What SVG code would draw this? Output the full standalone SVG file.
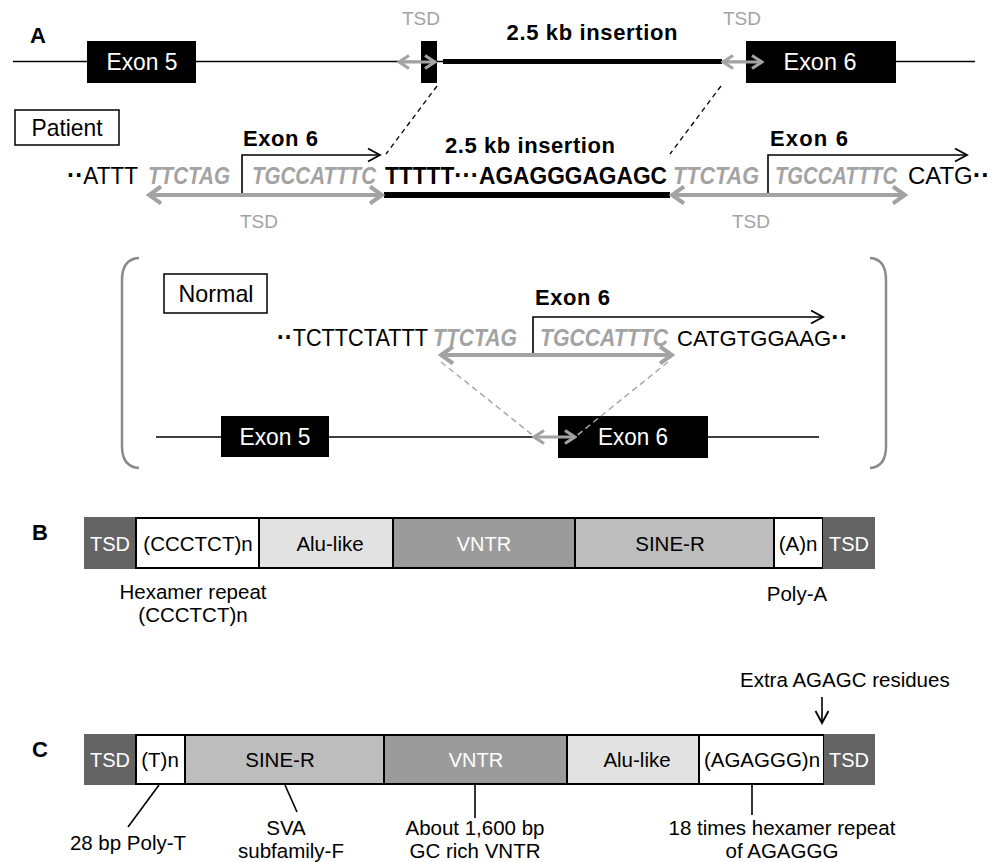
<svg xmlns="http://www.w3.org/2000/svg" width="1003" height="862" viewBox="0 0 1003 862">
<style>
text{font-family:"Liberation Sans",Arial,Helvetica,sans-serif;fill:#000}
.lbl{font-weight:bold;font-size:22px}
.bl{font-weight:bold;font-size:22px}
.seq{font-size:23px}
.seq2{font-size:22px}
.sb{font-size:23px;font-weight:bold}
.gi{font-size:23px;font-weight:bold;font-style:italic;fill:#a3a3a3}
.d{font-size:25px;font-weight:bold}
.tsd{font-size:19px;fill:#a3a3a3}
.ex{font-size:23.5px;fill:#fff}
.box{font-size:24px}
.seg{font-size:20.5px}
.segw{font-size:20px;fill:#fff}
.note{font-size:20.5px}
.mid{text-anchor:middle}
.thin{stroke:#000;stroke-width:1.6;fill:none}
.garr{stroke:#a3a3a3;stroke-width:4;fill:none}
.garrs{stroke:#a3a3a3;stroke-width:3.2;fill:none}
.darr{stroke:#000;stroke-width:1.6;fill:none}
.dash{stroke:#000;stroke-width:1.3;stroke-dasharray:5 4;fill:none}
.gdash{stroke:#aaa;stroke-width:1.5;stroke-dasharray:6 4;fill:none}
.exbox{fill:#000}
.tsdbox{fill:#646464}
.part{stroke:#000;stroke-width:2}
.brk{stroke:#8a8a8a;stroke-width:2.5;fill:none}
</style>
<defs>
<marker id="gch" viewBox="0 0 20 20" markerWidth="20" markerHeight="20" refX="17" refY="10" markerUnits="userSpaceOnUse" orient="auto-start-reverse">
<path d="M5,1.5 L17,10 L5,18.5" fill="none" stroke="#a3a3a3" stroke-width="4"/>
</marker>
<marker id="gchs" viewBox="0 0 16 16" markerWidth="16" markerHeight="16" refX="14" refY="8" markerUnits="userSpaceOnUse" orient="auto-start-reverse">
<path d="M4,1.5 L14,8 L4,14.5" fill="none" stroke="#a3a3a3" stroke-width="3.2"/>
</marker>
<marker id="bch" viewBox="0 0 16 16" markerWidth="16" markerHeight="16" refX="14" refY="8" markerUnits="userSpaceOnUse" orient="auto">
<path d="M2,1.5 L14,8 L2,14.5" fill="none" stroke="#000" stroke-width="1.8"/>
</marker>
</defs>

<!-- Panel labels -->
<text class="lbl" x="30" y="43">A</text>
<text class="lbl" x="32" y="540">B</text>
<text class="lbl" x="32" y="757">C</text>

<!-- Panel A genomic top -->
<g id="top-backbone">
<line class="thin" x1="13" y1="61.5" x2="975" y2="61.5"/>
<line x1="443" y1="61.5" x2="722" y2="61.5" stroke="#000" stroke-width="5"/>
</g>
<g id="top-exon5">
<rect class="exbox" x="87" y="41" width="109" height="42"/>
<text class="ex mid" x="142" y="70" textLength="71" lengthAdjust="spacingAndGlyphs">Exon 5</text>
</g>
<g id="top-tsd-box">
<rect class="exbox" x="421" y="41" width="16" height="42"/>
</g>
<g id="top-exon6">
<rect class="exbox" x="746" y="41" width="150" height="42"/>
<text class="ex mid" x="820" y="70" textLength="73" lengthAdjust="spacingAndGlyphs">Exon 6</text>
</g>
<g id="top-insertion-label">
<text class="bl mid" x="592" y="40" textLength="171" lengthAdjust="spacing">2.5 kb insertion</text>
</g>
<g id="top-tsd-left">
<text class="tsd mid" x="421" y="25">TSD</text>
</g>
<g id="top-tsd-right">
<text class="tsd mid" x="742" y="25">TSD</text>
</g>

<!-- Patient -->
<g id="patient-box">
<rect x="15" y="110" width="104" height="35" fill="#fff" stroke="#000" stroke-width="1.5"/>
<text class="box mid" x="67" y="136" textLength="71" lengthAdjust="spacingAndGlyphs">Patient</text>
</g>
<g id="patient-seq">
<text class="seq" x="67" y="184" textLength="71" lengthAdjust="spacingAndGlyphs"><tspan class="d">··</tspan>ATTT</text>
<text class="gi" x="148" y="184" textLength="82" lengthAdjust="spacingAndGlyphs">TTCTAG</text>
<text class="gi" x="252" y="184" textLength="124" lengthAdjust="spacingAndGlyphs">TGCCATTTC</text>
<text class="sb" x="385" y="184" textLength="282" lengthAdjust="spacingAndGlyphs">TTTTT<tspan class="d">···</tspan>AGAGGGAGAGC</text>
<text class="gi" x="673" y="184" textLength="86" lengthAdjust="spacingAndGlyphs">TTCTAG</text>
<text class="gi" x="775" y="184" textLength="122" lengthAdjust="spacingAndGlyphs">TGCCATTTC</text>
<text class="seq" x="908" y="184" textLength="82" lengthAdjust="spacingAndGlyphs">CATG<tspan class="d">··</tspan></text>
</g>
<g id="patient-exon6-left">
<text class="bl" x="243" y="146" textLength="75" lengthAdjust="spacing">Exon 6</text>
</g>
<g id="patient-insertion">
<text class="bl" x="445" y="153" textLength="170" lengthAdjust="spacing">2.5 kb insertion</text>
<line x1="384" y1="195" x2="670" y2="195" stroke="#000" stroke-width="6"/>
</g>
<g id="patient-exon6-right">
<text class="bl" x="770" y="146" textLength="78" lengthAdjust="spacing">Exon 6</text>
</g>
<g id="patient-tsd-left">
<text class="tsd mid" x="259" y="228">TSD</text>
</g>
<g id="patient-tsd-right">
<text class="tsd mid" x="751" y="228">TSD</text>
</g>

<!-- Normal -->
<g id="normal-bracket">
<path class="brk" d="M139,258 Q122,259 122,280 L122,446 Q122,467 139,468"/>
<path class="brk" d="M870,258 Q886,259 886,280 L886,446 Q886,467 870,468"/>
</g>
<g id="normal-box">
<rect x="164" y="274" width="103" height="39" fill="#fff" stroke="#000" stroke-width="1.5"/>
<text class="box mid" x="216" y="302" textLength="75" lengthAdjust="spacingAndGlyphs">Normal</text>
</g>
<g id="normal-seq">
<text class="seq" x="277" y="346" textLength="151" lengthAdjust="spacingAndGlyphs"><tspan class="d">··</tspan>TCTTCTATTT</text>
<text class="gi" x="433" y="346" textLength="84" lengthAdjust="spacingAndGlyphs">TTCTAG</text>
<text class="gi" x="540" y="346" textLength="128" lengthAdjust="spacingAndGlyphs">TGCCATTTC</text>
<text class="seq2" x="677" y="346" textLength="171" lengthAdjust="spacingAndGlyphs">CATGTGGAAG<tspan class="d">··</tspan></text>
</g>
<g id="normal-exon6-label">
<text class="bl" x="535" y="305" textLength="75" lengthAdjust="spacing">Exon 6</text>
</g>
<g id="normal-backbone">
<line class="thin" x1="156" y1="437" x2="819" y2="437"/>
</g>
<g id="normal-exon5">
<rect class="exbox" x="221" y="416" width="108" height="41"/>
<text class="ex mid" x="275" y="445" textLength="71" lengthAdjust="spacingAndGlyphs">Exon 5</text>
</g>
<g id="normal-exon6">
<rect class="exbox" x="558" y="416" width="150" height="42"/>
<text class="ex mid" x="633" y="445" textLength="70" lengthAdjust="spacingAndGlyphs">Exon 6</text>
</g>

<!-- Panel B -->
<g id="B-tsd-left">
<rect class="tsdbox" x="84" y="517" width="52" height="52"/>
<text class="segw mid" x="110" y="551">TSD</text>
</g>
<g id="B-cccTCT">
<rect class="part" x="136" y="518" width="123" height="50" fill="#fff"/>
<text class="seg mid" x="198" y="551">(CCCTCT)n</text>
</g>
<g id="B-alu">
<rect class="part" x="259" y="518" width="134" height="50" fill="#e2e2e2"/>
<text class="seg mid" x="330" y="551">Alu-like</text>
</g>
<g id="B-vntr">
<rect class="part" x="393" y="518" width="182" height="50" fill="#9b9b9b"/>
<text class="segw mid" x="484" y="551">VNTR</text>
</g>
<g id="B-sine">
<rect class="part" x="575" y="518" width="199" height="50" fill="#bdbdbd"/>
<text class="seg mid" x="670" y="551">SINE-R</text>
</g>
<g id="B-polyA">
<rect class="part" x="774" y="518" width="49" height="50" fill="#fff"/>
<text class="seg mid" x="798" y="551">(A)n</text>
</g>
<g id="B-tsd-right">
<rect class="tsdbox" x="823" y="517" width="52" height="52"/>
<text class="segw mid" x="849" y="551">TSD</text>
</g>
<g id="B-notes">
<text class="note mid" x="193" y="599">Hexamer repeat</text>
<text class="note mid" x="193" y="622">(CCCTCT)n</text>
<text class="note mid" x="797" y="601">Poly-A</text>
</g>

<!-- Panel C -->
<g id="C-tsd-left">
<rect class="tsdbox" x="84" y="734" width="52" height="51"/>
<text class="segw mid" x="110" y="767">TSD</text>
</g>
<g id="C-polyT">
<rect class="part" x="136" y="735" width="49" height="49" fill="#fff"/>
<text class="seg mid" x="160" y="767">(T)n</text>
</g>
<g id="C-sine">
<rect class="part" x="185" y="735" width="199" height="49" fill="#bdbdbd"/>
<text class="seg mid" x="280" y="767">SINE-R</text>
</g>
<g id="C-vntr">
<rect class="part" x="384" y="735" width="183" height="49" fill="#9b9b9b"/>
<text class="segw mid" x="476" y="767">VNTR</text>
</g>
<g id="C-alu">
<rect class="part" x="567" y="735" width="132" height="49" fill="#e2e2e2"/>
<text class="seg mid" x="637" y="767">Alu-like</text>
</g>
<g id="C-agaggg">
<rect class="part" x="699" y="735" width="125" height="49" fill="#fff"/>
<text class="seg mid" x="762" y="767">(AGAGGG)n</text>
</g>
<g id="C-tsd-right">
<rect class="tsdbox" x="824" y="734" width="51" height="51"/>
<text class="segw mid" x="849" y="767">TSD</text>
</g>
<g id="C-notes">
<text class="note mid" x="128" y="850">28 bp Poly-T</text>
<text class="note mid" x="286" y="835">SVA</text>
<text class="note mid" x="291" y="858">subfamily-F</text>
<text class="note mid" x="475" y="835">About 1,600 bp</text>
<text class="note mid" x="475" y="858">GC rich VNTR</text>
<text class="note mid" x="782" y="835">18 times hexamer repeat</text>
<text class="note mid" x="782" y="858">of AGAGGG</text>
<text class="note" x="740" y="687">Extra AGAGC residues</text>
</g>

<!-- Connectors -->
<g id="connectors">
<line class="garrs" x1="399" y1="62" x2="435" y2="62" marker-start="url(#gchs)" marker-end="url(#gchs)"/>
<line class="garrs" x1="723" y1="62" x2="762" y2="62" marker-start="url(#gchs)" marker-end="url(#gchs)"/>
<line class="dash" x1="437" y1="86" x2="386" y2="154"/>
<line class="dash" x1="721" y1="86" x2="670" y2="154"/>
<polyline class="darr" points="242,195 242,155 380,155" marker-end="url(#bch)"/>
<polyline class="darr" points="768,195 768,155 967,155" marker-end="url(#bch)"/>
<line class="garr" x1="149" y1="195" x2="382" y2="195" marker-start="url(#gch)" marker-end="url(#gch)"/>
<line class="garr" x1="672" y1="195" x2="905" y2="195" marker-start="url(#gch)" marker-end="url(#gch)"/>
<polyline class="darr" points="533,355 533,317 823,317" marker-end="url(#bch)"/>
<line class="garr" x1="441" y1="355" x2="672" y2="355" marker-start="url(#gch)" marker-end="url(#gch)"/>
<line class="gdash" x1="441" y1="362" x2="535" y2="437"/>
<line class="gdash" x1="668" y1="362" x2="575" y2="437"/>
<line class="garrs" x1="534" y1="437" x2="575" y2="437" marker-start="url(#gchs)" marker-end="url(#gchs)"/>
<line class="thin" x1="159" y1="785" x2="128" y2="827"/>
<line class="thin" x1="285" y1="785" x2="297" y2="812"/>
<line class="thin" x1="475" y1="785" x2="475" y2="818"/>
<line class="thin" x1="752" y1="785" x2="752" y2="815"/>
<line class="darr" x1="822" y1="697" x2="822" y2="723" marker-end="url(#bch)"/>
</g>
</svg>
